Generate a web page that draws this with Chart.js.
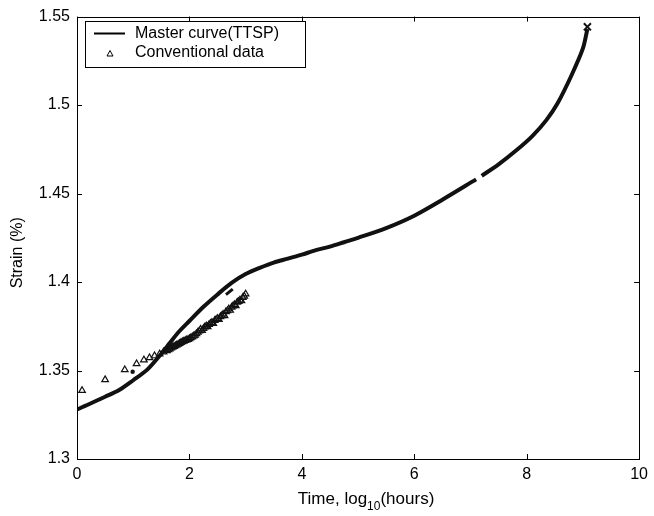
<!DOCTYPE html>
<html>
<head>
<meta charset="utf-8">
<script src="https://cdn.jsdelivr.net/npm/chart.js@4.4.1/dist/chart.umd.min.js"></script>
<style>
html,body{margin:0;padding:0;background:#fff;}
#wrap{width:654px;height:516px;position:relative;}
</style>
</head>
<body>
<div id="wrap"><canvas id="c" width="654" height="516"></canvas></div>
<script>
// Master curve (TTSP)
const masterX = [0, 0.25, 0.5, 0.75, 1.0, 1.25, 1.5, 1.65, 1.8, 2.0, 2.25, 2.5, 2.75, 3.0, 3.25, 3.5, 3.75, 4.0, 4.25, 4.5, 4.75, 5.0, 5.5, 6.0, 6.5, 7.1, 7.15, 7.2, 7.5, 7.8, 8.1, 8.35, 8.55, 8.8, 9.0, 9.08];
const masterY = [1.328, 1.3315, 1.3352, 1.339, 1.3445, 1.3505, 1.3595, 1.3655, 1.3715, 1.378, 1.386, 1.393, 1.3995, 1.4045, 1.408, 1.411, 1.4132, 1.4155, 1.418, 1.420, 1.4225, 1.425, 1.4305, 1.4375, 1.4465, 1.458, null, 1.460, 1.4665, 1.474, 1.4825, 1.4915, 1.501, 1.517, 1.532, 1.543];
// short offset piece of the master curve
const segX = [2.65, 2.77];
const segY = [1.3929, 1.3960];
// Conventional data
const convX = [0.09, 0.5, 0.85, 1.06, 1.19, 1.29, 1.38, 1.47, 1.54,
  1.6, 1.625, 1.65, 1.675, 1.7, 1.725, 1.75, 1.775, 1.8, 1.825, 1.85, 1.875, 1.9, 1.925, 1.95, 1.975,
  2.0, 2.025, 2.05, 2.075, 2.1, 2.125, 2.15, 2.175, 2.2, 2.225, 2.25, 2.275, 2.3, 2.325, 2.35, 2.375,
  2.4, 2.425, 2.45, 2.475, 2.5, 2.525, 2.55, 2.575, 2.6, 2.625, 2.65, 2.675, 2.7, 2.725, 2.75, 2.775,
  2.8, 2.825, 2.85, 2.875, 2.9, 2.925, 2.95, 2.975, 3.0];
const convY = [1.3387, 1.3448, 1.3504, 1.3538, 1.356, 1.3572, 1.3583, 1.3594, 1.3605,
  1.3612, 1.3617, 1.3622, 1.3627, 1.3632, 1.3636, 1.364, 1.3644, 1.3648, 1.3653, 1.3658, 1.3662, 1.3665, 1.3669, 1.3672, 1.3676,
  1.368, 1.3685, 1.369, 1.3695, 1.370, 1.3708, 1.3716, 1.3724, 1.3733, 1.3726, 1.3738, 1.3746, 1.3752, 1.3748, 1.376, 1.3766,
  1.3772, 1.3766, 1.3782, 1.3788, 1.3794, 1.3788, 1.3804, 1.381, 1.3818, 1.381, 1.3832, 1.3838, 1.3848, 1.384, 1.3858, 1.3864,
  1.3872, 1.3866, 1.3886, 1.389, 1.3898, 1.3894, 1.3912, 1.392, 1.3932];
// single filled dot
const dotX = [0.99];
const dotY = [1.3493];
// end marker
const endX = [9.08];
const endY = [1.5442];
// ticks
const xTicks = [0, 2, 4, 6, 8, 10];
const yTicks = [1.3, 1.35, 1.4, 1.45, 1.5, 1.55];

const xyOf = (xs, ys) => xs.map((x, i) => ({x: x, y: ys[i]}));
const FONT = '"Liberation Sans", Arial, Helvetica, sans-serif';

const framePlugin = {
  id: 'frame',
  afterDraw(chart) {
    const ctx = chart.ctx, a = chart.chartArea;
    const xs = chart.scales.x, ys = chart.scales.y;
    ctx.save();
    ctx.strokeStyle = '#000';
    ctx.lineWidth = 1;
    ctx.strokeRect(Math.round(a.left) + 0.5, Math.round(a.top) + 0.5, Math.round(a.right - a.left), Math.round(a.bottom - a.top));
    ctx.beginPath();
    xTicks.forEach(v => {
      const px = Math.round(xs.getPixelForValue(v)) + 0.5;
      ctx.moveTo(px, a.bottom); ctx.lineTo(px, a.bottom - 5);
      ctx.moveTo(px, a.top); ctx.lineTo(px, a.top + 5);
    });
    yTicks.forEach(v => {
      const py = Math.round(ys.getPixelForValue(v)) + 0.5;
      ctx.moveTo(a.left, py); ctx.lineTo(a.left + 5, py);
      ctx.moveTo(a.right, py); ctx.lineTo(a.right - 5, py);
    });
    ctx.stroke();

    // legend
    const lx = 85, ly = 21, lw = 220, lh = 46;
    ctx.fillStyle = '#fff';
    ctx.fillRect(lx, ly, lw, lh);
    ctx.strokeRect(lx + 0.5, ly + 0.5, lw, lh);
    ctx.lineWidth = 2;
    ctx.beginPath(); ctx.moveTo(94, 33.5); ctx.lineTo(125, 33.5); ctx.stroke();
    ctx.lineWidth = 1;
    ctx.beginPath();
    ctx.moveTo(110, 50.5); ctx.lineTo(113, 56); ctx.lineTo(107, 56); ctx.closePath(); ctx.stroke();
    ctx.fillStyle = '#000';
    ctx.font = '16px ' + FONT;
    ctx.textBaseline = 'middle';
    ctx.textAlign = 'left';
    ctx.fillText('Master curve(TTSP)', 135, 34);
    ctx.fillText('Conventional data', 135, 53);

    // y title
    ctx.save();
    ctx.translate(18, (a.top + a.bottom) / 2 + 15);
    ctx.rotate(-Math.PI / 2);
    ctx.textAlign = 'center';
    ctx.textBaseline = 'middle';
    ctx.font = '16px ' + FONT;
    ctx.fillText('Strain (%)', 0, 0);
    ctx.restore();

    // x title with subscript
    ctx.textBaseline = 'alphabetic';
    ctx.textAlign = 'left';
    const big = '17px ' + FONT, small = '12px ' + FONT;
    ctx.font = big; const w1 = ctx.measureText('Time, log').width;
    ctx.font = small; const w2 = ctx.measureText('10').width;
    ctx.font = big; const w3 = ctx.measureText('(hours)').width;
    let x0 = (a.left + a.right) / 2 + 8 - (w1 + w2 + w3) / 2;
    const yb = 504;
    ctx.font = big; ctx.fillText('Time, log', x0, yb);
    ctx.font = small; ctx.fillText('10', x0 + w1, yb + 6);
    ctx.font = big; ctx.fillText('(hours)', x0 + w1 + w2, yb);
    ctx.restore();
  }
};

new Chart(document.getElementById('c'), {
  type: 'scatter',
  data: {
    datasets: [
      {
        label: 'Master curve(TTSP)',
        data: xyOf(masterX, masterY),
        showLine: true,
        spanGaps: false,
        borderColor: '#111',
        borderWidth: 4,
        pointRadius: 0,
        tension: 0.3,
        order: 2
      },
      {
        label: 'seg',
        data: xyOf(segX, segY),
        showLine: true,
        borderColor: '#111',
        borderWidth: 3,
        pointRadius: 0,
        order: 2
      },
      {
        label: 'Conventional data',
        data: xyOf(convX, convY),
        showLine: false,
        pointStyle: 'triangle',
        pointRadius: 3.8,
        borderWidth: 1.2,
        borderColor: '#111',
        backgroundColor: 'rgba(255,255,255,0)',
        order: 1
      },
      {
        label: 'dot',
        data: xyOf(dotX, dotY),
        pointStyle: 'circle',
        pointRadius: 2.2,
        borderWidth: 0,
        backgroundColor: '#111',
        order: 1
      },
      {
        label: 'end',
        data: xyOf(endX, endY),
        pointStyle: 'crossRot',
        pointRadius: 5,
        borderWidth: 2,
        borderColor: '#111',
        order: 0
      }
    ]
  },
  options: {
    responsive: false,
    animation: false,
    devicePixelRatio: 1,
    layout: { padding: { left: 0, top: 13, right: 12, bottom: 0 } },
    plugins: { legend: { display: false }, tooltip: { enabled: false } },
    scales: {
      x: {
        type: 'linear',
        min: 0, max: 10,
        afterBuildTicks: s => { s.ticks = xTicks.map(v => ({value: v})); },
        afterFit: s => { s.height = 57; },
        grid: { display: false, drawTicks: false },
        border: { display: false },
        ticks: { color: '#000', font: { family: FONT, size: 16 }, padding: 6, maxRotation: 0 }
      },
      y: {
        type: 'linear',
        min: 1.3, max: 1.55,
        afterBuildTicks: s => { s.ticks = yTicks.map(v => ({value: v})); },
        afterFit: s => { s.width = 77; },
        grid: { display: false, drawTicks: false },
        border: { display: false },
        ticks: { color: '#000', font: { family: FONT, size: 16 }, padding: 7,
          callback: v => String(Number(v.toFixed(2))) }
      }
    }
  },
  plugins: [framePlugin]
});
</script>
</body>
</html>
